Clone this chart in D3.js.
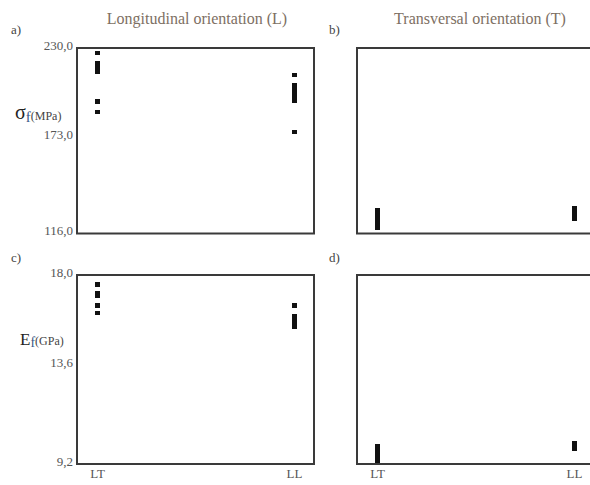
<!DOCTYPE html>
<html lang="en">
<head>
  <meta charset="UTF-8">
  <title>Flexural strength and modulus by orientation</title>
  <script src="https://d3js.org/d3.v7.min.js"></script>
  <style>
    body { background: #fff; margin: 0; }
    svg { display: block; }
    .frame { fill: none; stroke: #3a3a3a; stroke-width: 2; }
    .tick text { font-family: "Liberation Serif", serif; font-size: 13px; fill: #555; }
    .title { font-family: "Liberation Serif", serif; font-size: 16px; fill: #7d6f63; }
    .letter { font-family: "Liberation Serif", serif; font-size: 13px; fill: #444; }
    .mark { fill: #111; shape-rendering: crispEdges; }
  </style>
</head>
<body>
  <svg width="590" height="485"></svg>

  <script>
    const svg = d3.select("svg");

    // categories and tick labels
    const groups = ["LT", "LL"];
    const sigmaTicks = [116, 173, 230];
    const modTicks = [9.2, 13.6, 18.0];

    // flexural strength (MPa), longitudinal
    const sigmaL_LT = [227, 220.8, 219, 217.2, 215.6, 197.2, 190.8];
    const sigmaL_LL = [213.6, 207.4, 205.6, 203.8, 202, 200, 198, 178.4];
    // flexural strength (MPa), transversal
    const sigmaT_LT = [130.2, 128.4, 126.6, 124.8, 123, 121.2, 119.8];
    const sigmaT_LL = [131.4, 129.6, 127.8, 126, 125];
    // flexural modulus (GPa), longitudinal
    const modL_LT = [17.58, 17.15, 17.05, 16.59, 16.24];
    const modL_LL = [16.6, 16.1, 15.9, 15.75, 15.6];
    // flexural modulus (GPa), transversal
    const modT_LT = [10.05, 9.9, 9.75, 9.6, 9.45, 9.32];
    const modT_LL = [10.2, 10.05, 9.92];

    const colX = [77, 357];
    const rows = [{ top: 48, bottom: 233.5 }, { top: 275, bottom: 464 }];
    const panelW = 237;

    const fmt = d => d3.format(".1f")(d).replace(".", ",");

    const panels = [
      { col: 0, row: 0, letter: "a)", domain: [116, 230], ticks: sigmaTicks, data: [sigmaL_LT, sigmaL_LL] },
      { col: 1, row: 0, letter: "b)", domain: [116, 230], ticks: null, data: [sigmaT_LT, sigmaT_LL] },
      { col: 0, row: 1, letter: "c)", domain: [9.2, 18.0], ticks: modTicks, data: [modL_LT, modL_LL] },
      { col: 1, row: 1, letter: "d)", domain: [9.2, 18.0], ticks: null, data: [modT_LT, modT_LL] }
    ];

    panels.forEach(p => {
      const x0 = colX[p.col];
      const r = rows[p.row];
      const y = d3.scaleLinear().domain(p.domain).range([r.bottom, r.top]);
      const x = d3.scalePoint().domain(groups).range([x0 + 20, x0 + panelW - 20]);

      const g = svg.append("g");

      if (p.ticks) {
        g.append("g")
          .attr("transform", `translate(${x0 - 2},0)`)
          .call(d3.axisLeft(y).tickValues(p.ticks).tickFormat(fmt).tickSize(0).tickPadding(2))
          .call(a => a.select(".domain").remove())
          .selectAll("text").attr("dy", (d, i) => i === 1 ? "-0.2em" : "0.1em");
      }

      if (p.row === 1) {
        g.append("g")
          .attr("transform", `translate(0,${r.bottom})`)
          .call(d3.axisBottom(x).tickSize(0).tickPadding(5))
          .call(a => a.select(".domain").remove());
      }

      // data marks
      groups.forEach((k, gi) => {
        g.selectAll(null)
          .data(p.data[gi])
          .enter()
          .append("rect")
          .attr("class", "mark")
          .attr("x", x(k) - 2.5)
          .attr("y", d => y(d) - 2)
          .attr("width", 5)
          .attr("height", 4.5);
      });

      g.append("rect")
        .attr("class", "frame")
        .attr("x", x0)
        .attr("y", r.top)
        .attr("width", panelW)
        .attr("height", r.bottom - r.top);

      g.append("text")
        .attr("class", "letter")
        .attr("x", p.col === 0 ? 11 : 329)
        .attr("y", p.row === 0 ? 34 : 262)
        .text(p.letter);
    });

    // column titles
    svg.append("text").attr("class", "title")
      .attr("x", 197).attr("y", 24).attr("text-anchor", "middle")
      .text("Longitudinal orientation (L)");
    svg.append("text").attr("class", "title")
      .attr("x", 480).attr("y", 24).attr("text-anchor", "middle")
      .text("Transversal orientation (T)");

    // y labels
    const sigLab = svg.append("text").attr("x", 15).attr("y", 119)
      .attr("font-family", "Liberation Serif, serif");
    sigLab.append("tspan").attr("font-size", 20).attr("fill", "#222").text("σ");
    sigLab.append("tspan").attr("font-size", 15).attr("fill", "#3a5a8a").attr("dy", 3).text("f");
    sigLab.append("tspan").attr("font-size", 12).attr("fill", "#444").attr("dy", -2).text("(MPa)");

    const eLab = svg.append("text").attr("x", 20).attr("y", 345)
      .attr("font-family", "Liberation Serif, serif");
    eLab.append("tspan").attr("font-size", 17).attr("fill", "#222").text("E");
    eLab.append("tspan").attr("font-size", 14).attr("fill", "#3a5a8a").attr("dy", 2).text("f");
    eLab.append("tspan").attr("font-size", 12).attr("fill", "#444").attr("dy", -2).text("(GPa)");
  </script>
</body>
</html>
